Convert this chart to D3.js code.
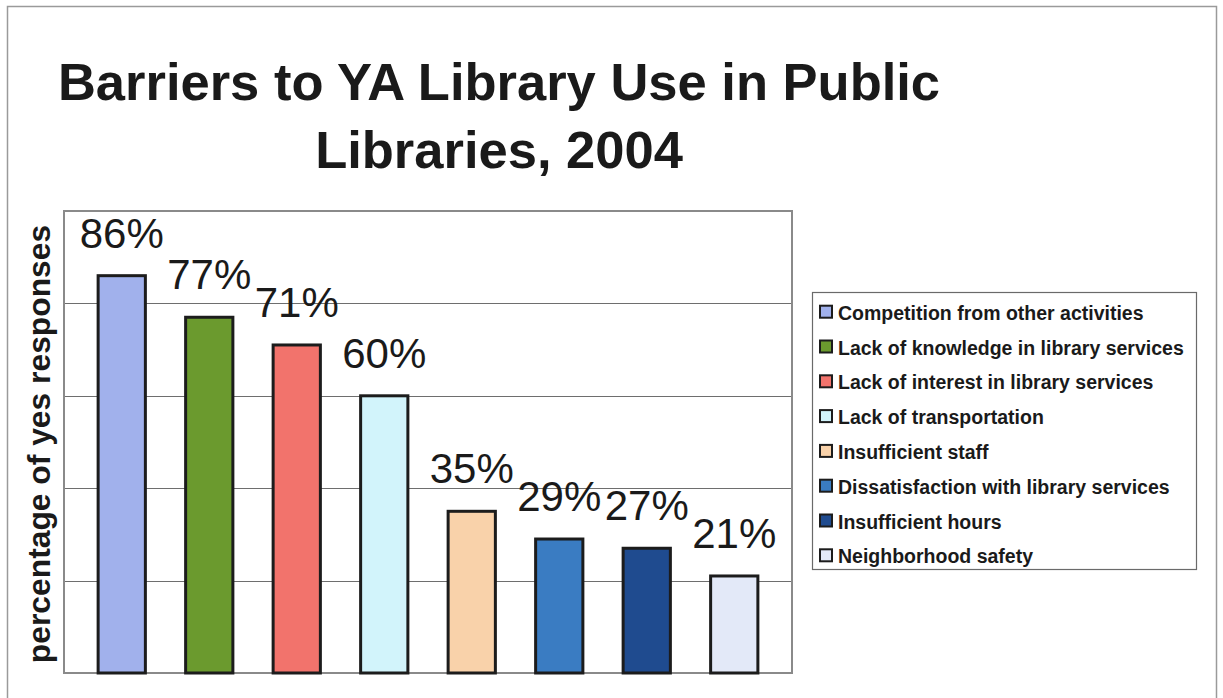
<!DOCTYPE html>
<html>
<head>
<meta charset="utf-8">
<script src="https://cdn.jsdelivr.net/npm/d3@7"></script>
<style>
  body { margin: 0; background: #fff; }
  svg { display: block; font-family: "Liberation Sans", Arial, sans-serif; }
</style>
</head>
<body>
<div class="chart"></div>
<script>
// chart data
var categories = [
  "Competition from other activities",
  "Lack of knowledge in library services",
  "Lack of interest in library services",
  "Lack of transportation",
  "Insufficient staff",
  "Dissatisfaction with library services",
  "Insufficient hours",
  "Neighborhood safety"
];
var values = [86, 77, 71, 60, 35, 29, 27, 21];
var colors = ["#a1b1ec", "#6b9a2e", "#f2736c", "#d2f4fb", "#f9d2aa", "#3a7cc2", "#1f4b8f", "#e3e9f8"];
var yTicks = [0, 20, 40, 60, 80, 100];
var titleLines = ["Barriers to YA Library Use in Public", "Libraries, 2004"];
var yTitle = "percentage of yes responses";

var W = 1223, H = 698;
var plot = {left: 64, top: 211, right: 792, bottom: 673};

var svg = d3.select("div.chart").append("svg")
    .attr("width", W)
    .attr("height", H);

// outer frame
svg.append("rect")
    .attr("x", 7.5).attr("y", 6.5)
    .attr("width", 1209).attr("height", 720)
    .attr("fill", "none")
    .attr("stroke", "#9a9a9a")
    .attr("stroke-width", 1.5);

// title
svg.append("text")
    .attr("text-anchor", "middle")
    .attr("font-weight", "bold")
    .attr("font-size", 52.5)
    .attr("fill", "#1a1a1a")
  .selectAll("tspan")
    .data(titleLines)
  .enter().append("tspan")
    .attr("x", 499)
    .attr("y", function(d, i) { return 100 + i * 68; })
    .text(function(d) { return d; });

var x = d3.scaleBand()
    .domain(categories)
    .range([plot.left, plot.right])
    .paddingInner(0.46)
    .paddingOuter(0.39);

var y = d3.scaleLinear()
    .domain([0, 100])
    .range([plot.bottom, plot.top]);

// gridlines
svg.append("g")
  .selectAll("line")
    .data(yTicks.slice(1, -1))
  .enter().append("line")
    .attr("x1", plot.left).attr("x2", plot.right)
    .attr("y1", function(d) { return Math.round(y(d)) + 0.5; })
    .attr("y2", function(d) { return Math.round(y(d)) + 0.5; })
    .attr("stroke", "#6e6e6e")
    .attr("stroke-width", 1.2);

// plot frame
svg.append("rect")
    .attr("x", plot.left).attr("y", plot.top)
    .attr("width", plot.right - plot.left)
    .attr("height", plot.bottom - plot.top)
    .attr("fill", "none")
    .attr("stroke", "#8a8a8a")
    .attr("stroke-width", 2);

// bars
svg.append("g")
  .selectAll("rect")
    .data(values)
  .enter().append("rect")
    .attr("x", function(d, i) { return x(categories[i]); })
    .attr("y", function(d) { return y(d); })
    .attr("width", x.bandwidth())
    .attr("height", function(d) { return y(0) - y(d); })
    .attr("fill", function(d, i) { return colors[i]; })
    .attr("stroke", "#1c1c1c")
    .attr("stroke-width", 3);

// value labels
svg.append("g")
  .selectAll("text")
    .data(values)
  .enter().append("text")
    .attr("x", function(d, i) { return x(categories[i]) + x.bandwidth() / 2; })
    .attr("y", function(d) { return y(d) - 28; })
    .attr("text-anchor", "middle")
    .attr("font-size", 42)
    .attr("fill", "#1a1a1a")
    .text(function(d) { return d + "%"; });

// y title
svg.append("text")
    .attr("transform", "translate(50," + ((plot.top + plot.bottom) / 2 + 2) + ") rotate(-90)")
    .attr("text-anchor", "middle")
    .attr("font-weight", "bold")
    .attr("font-size", 31.8)
    .attr("fill", "#1a1a1a")
    .text(yTitle);

// legend
var legend = svg.append("g");
legend.append("rect")
    .attr("x", 812.5).attr("y", 292.5)
    .attr("width", 384).attr("height", 277)
    .attr("fill", "#fff")
    .attr("stroke", "#6a6a6a")
    .attr("stroke-width", 1.2);

var item = legend.selectAll("g.item")
    .data(categories)
  .enter().append("g")
    .attr("class", "item")
    .attr("transform", function(d, i) { return "translate(0," + (312.7 + i * 34.8) + ")"; });

item.append("rect")
    .attr("x", 820).attr("y", -7)
    .attr("width", 12).attr("height", 12)
    .attr("fill", function(d, i) { return colors[i]; })
    .attr("stroke", "#1c1c1c")
    .attr("stroke-width", 2);

item.append("text")
    .attr("x", 838)
    .attr("y", 7)
    .attr("font-size", 19.5)
    .attr("font-weight", "bold")
    .attr("fill", "#1a1a1a")
    .text(function(d) { return d; });
</script>
</body>
</html>
